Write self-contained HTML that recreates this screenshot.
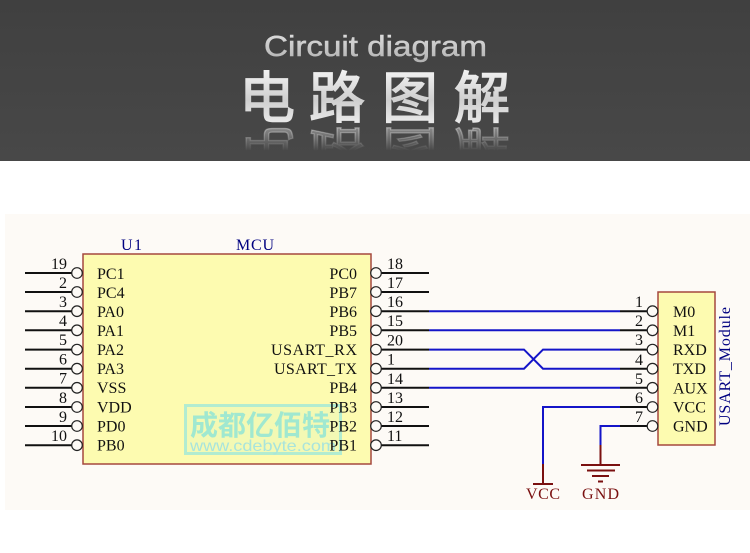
<!DOCTYPE html>
<html><head><meta charset="utf-8">
<style>
html,body{margin:0;padding:0;background:#fff}
svg{display:block}
.s{font-family:"Liberation Serif","Noto Serif CJK SC",serif;font-size:16px;fill:#111}
.n{font-family:"Liberation Serif",serif;font-size:16px;fill:#111}
.b{fill:#000080}
.r{fill:#7a1010}
</style></head><body>
<svg width="750" height="553" viewBox="0 0 750 553" xmlns="http://www.w3.org/2000/svg">
<defs>
<linearGradient id="hd" x1="0" y1="0" x2="0" y2="1"><stop offset="0" stop-color="#404040"/><stop offset="1" stop-color="#484848"/></linearGradient>
<linearGradient id="tg" gradientUnits="userSpaceOnUse" x1="0" y1="70" x2="0" y2="125"><stop offset="0" stop-color="#f2f2f2"/><stop offset=".55" stop-color="#cfcfcf"/><stop offset="1" stop-color="#ececec"/></linearGradient>
<linearGradient id="tc" gradientUnits="userSpaceOnUse" x1="0" y1="34" x2="0" y2="60"><stop offset="0" stop-color="#dcdcdc"/><stop offset="1" stop-color="#b4b4b4"/></linearGradient>
<linearGradient id="rf" gradientUnits="userSpaceOnUse" x1="0" y1="-141" x2="0" y2="-113"><stop offset="0" stop-color="#fff" stop-opacity="0"/><stop offset="1" stop-color="#fff" stop-opacity=".38"/></linearGradient>
<clipPath id="rc"><rect x="230" y="127" width="290" height="24"/></clipPath>
</defs>
<rect width="750" height="553" fill="#fff"/>
<rect width="750" height="161" fill="url(#hd)"/>
<text x="264" y="56" font-family="Liberation Sans,sans-serif" font-size="29" fill="url(#tc)" stroke="url(#tc)" stroke-width=".5" textLength="223" lengthAdjust="spacingAndGlyphs">Circuit diagram</text>
<g font-family="Noto Sans CJK SC,sans-serif" font-size="56" font-weight="400" stroke-width="1.4">
<text x="239" y="118" fill="url(#tg)" stroke="url(#tg)">电</text>
<text x="309" y="118" fill="url(#tg)" stroke="url(#tg)">路</text>
<text x="382" y="118" fill="url(#tg)" stroke="url(#tg)">图</text>
<text x="454" y="118" fill="url(#tg)" stroke="url(#tg)">解</text>
<g clip-path="url(#rc)"><g transform="translate(0,31) scale(1,-.85)">
<text x="239" y="-118" fill="url(#rf)" stroke="url(#rf)">电</text>
<text x="309" y="-118" fill="url(#rf)" stroke="url(#rf)">路</text>
<text x="382" y="-118" fill="url(#rf)" stroke="url(#rf)">图</text>
<text x="454" y="-118" fill="url(#rf)" stroke="url(#rf)">解</text>
</g></g>
</g>

<rect x="5" y="214" width="745" height="296" fill="#fdfaf6"/>

<rect x="83" y="254" width="288" height="210" fill="#fdfbb0" stroke="#a5483e" stroke-width="1.5"/>
<rect x="658" y="292" width="57" height="153" fill="#fdfbb0" stroke="#a5483e" stroke-width="1.5"/>

<!-- watermark -->
<rect x="185.500" y="405.500" width="155" height="48" fill="#a0ecd8" fill-opacity=".1" stroke="#a0e8d8" stroke-width="3" stroke-opacity=".8"/>
<text x="190" y="435" font-family="Noto Sans CJK SC,sans-serif" font-size="28" font-weight="700" fill="#a0e8d0" textLength="140">成都亿佰特</text>
<text x="190" y="451" font-family="Liberation Sans,sans-serif" font-size="16" fill="#a8e4dc" textLength="146" lengthAdjust="spacingAndGlyphs">www.cdebyte.com</text>

<!-- pins -->
<g stroke="#111" stroke-width="2" fill="none">
<path d="M25 273H72M25 292H72M25 311.2H72M25 330.3H72M25 349.6H72M25 368.7H72M25 387.8H72M25 407H72M25 426H72M25 445.2H72"/>
<path d="M381 273H429M381 292H429M381 311.2H429M381 330.3H429M381 349.6H429M381 368.7H429M381 387.8H429M381 407H429M381 426H429M381 445.2H429"/>
</g>
<g stroke="#222" stroke-width="1.2" fill="#fdfaf6">
<circle cx="77" cy="273" r="5.3"/><circle cx="77" cy="292" r="5.3"/><circle cx="77" cy="311.2" r="5.3"/><circle cx="77" cy="330.3" r="5.3"/><circle cx="77" cy="349.6" r="5.3"/><circle cx="77" cy="368.7" r="5.3"/><circle cx="77" cy="387.8" r="5.3"/><circle cx="77" cy="407" r="5.3"/><circle cx="77" cy="426" r="5.3"/><circle cx="77" cy="445.2" r="5.3"/>
<circle cx="376" cy="273" r="5.3"/><circle cx="376" cy="292" r="5.3"/><circle cx="376" cy="311.2" r="5.3"/><circle cx="376" cy="330.3" r="5.3"/><circle cx="376" cy="349.6" r="5.3"/><circle cx="376" cy="368.7" r="5.3"/><circle cx="376" cy="387.8" r="5.3"/><circle cx="376" cy="407" r="5.3"/><circle cx="376" cy="426" r="5.3"/><circle cx="376" cy="445.2" r="5.3"/>
</g>

<!-- wires -->
<g stroke="#1414c8" stroke-width="2" fill="none">
<path d="M429 311.2H620M429 330.3H620M429 349.6H524L543 368.7H620M429 368.7H524L543 349.6H620M429 387.8H620"/>
<path d="M620 407H543V464M620 426H600.5V445"/>
</g>
<g stroke="#111" stroke-width="2" fill="none">
<path d="M620 311.2H647M620 330.3H647M620 349.6H647M620 368.7H647M620 387.8H647M620 407H647M620 426H647"/>
</g>
<g stroke="#222" stroke-width="1.2" fill="#fdfaf6">
<circle cx="652.5" cy="311.2" r="5.3"/><circle cx="652.5" cy="330.3" r="5.3"/><circle cx="652.5" cy="349.6" r="5.3"/><circle cx="652.5" cy="368.7" r="5.3"/><circle cx="652.5" cy="387.8" r="5.3"/><circle cx="652.5" cy="407" r="5.3"/><circle cx="652.5" cy="426" r="5.3"/>
</g>
<!-- power -->
<g stroke="#7a1010" stroke-width="2" fill="none">
<path d="M543 464V484M533 484H553M600.5 445V465M581 465H620M587 470.5H615M592 476H609M598 481.5H603"/>
</g>

<!-- title labels -->
<text x="121" y="250" class="s b" textLength="21">U1</text>
<text x="236" y="250" class="s b" textLength="38">MCU</text>

<!-- left numbers -->
<text class="n" x="67" y="269" text-anchor="end">19</text>
<text class="n" x="67" y="288" text-anchor="end">2</text>
<text class="n" x="67" y="307" text-anchor="end">3</text>
<text class="n" x="67" y="326" text-anchor="end">4</text>
<text class="n" x="67" y="345" text-anchor="end">5</text>
<text class="n" x="67" y="364.500" text-anchor="end">6</text>
<text class="n" x="67" y="383.500" text-anchor="end">7</text>
<text class="n" x="67" y="403" text-anchor="end">8</text>
<text class="n" x="67" y="422" text-anchor="end">9</text>
<text class="n" x="67" y="441" text-anchor="end">10</text>
<!-- right numbers -->
<text class="n" x="387" y="269">18</text>
<text class="n" x="387" y="288">17</text>
<text class="n" x="387" y="307">16</text>
<text class="n" x="387" y="326">15</text>
<text class="n" x="387" y="345.500">20</text>
<text class="n" x="387" y="364.500">1</text>
<text class="n" x="387" y="384">14</text>
<text class="n" x="387" y="403">13</text>
<text class="n" x="387" y="422">12</text>
<text class="n" x="387" y="441">11</text>
<!-- module numbers -->
<text class="n" x="643" y="307" text-anchor="end">1</text>
<text class="n" x="643" y="326" text-anchor="end">2</text>
<text class="n" x="643" y="345" text-anchor="end">3</text>
<text class="n" x="643" y="365" text-anchor="end">4</text>
<text class="n" x="643" y="384" text-anchor="end">5</text>
<text class="n" x="643" y="403" text-anchor="end">6</text>
<text class="n" x="643" y="422" text-anchor="end">7</text>

<!-- pin names -->
<text class="s" x="97" y="279">PC1</text>
<text class="s" x="97" y="298">PC4</text>
<text class="s" x="97" y="317">PA0</text>
<text class="s" x="97" y="336">PA1</text>
<text class="s" x="97" y="355">PA2</text>
<text class="s" x="97" y="374">PA3</text>
<text class="s" x="97" y="393">VSS</text>
<text class="s" x="97" y="412.500">VDD</text>
<text class="s" x="97" y="431.500">PD0</text>
<text class="s" x="97" y="450.500">PB0</text>
<text class="s" x="357" y="279" text-anchor="end">PC0</text>
<text class="s" x="357" y="298" text-anchor="end">PB7</text>
<text class="s" x="357" y="317" text-anchor="end">PB6</text>
<text class="s" x="357" y="336" text-anchor="end">PB5</text>
<text class="s" x="271" y="355" textLength="86">USART_RX</text>
<text class="s" x="274" y="374" textLength="83">USART_TX</text>
<text class="s" x="357" y="393" text-anchor="end">PB4</text>
<text class="s" x="357" y="412.500" text-anchor="end">PB3</text>
<text class="s" x="357" y="431.500" text-anchor="end">PB2</text>
<text class="s" x="357" y="450.500" text-anchor="end">PB1</text>
<text class="s" x="673" y="317">M0</text>
<text class="s" x="673" y="336">M1</text>
<text class="s" x="673" y="355">RXD</text>
<text class="s" x="673" y="374">TXD</text>
<text class="s" x="673" y="393.500">AUX</text>
<text class="s" x="673" y="412.500">VCC</text>
<text class="s" x="673" y="431.500">GND</text>
<text class="s b" transform="translate(730,426) rotate(-90)" textLength="119">USART_Module</text>
<text class="s r" x="526" y="499" textLength="34">VCC</text>
<text class="s r" x="582" y="499" textLength="37">GND</text>
</svg>
</body></html>
